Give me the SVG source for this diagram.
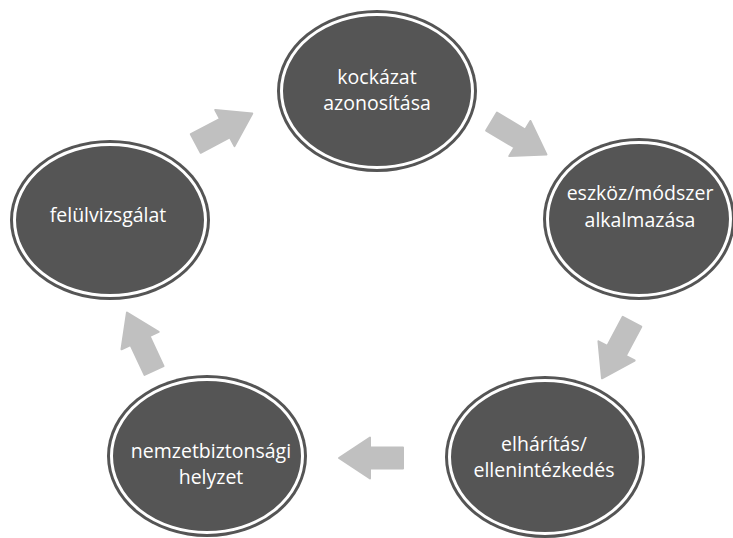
<svg xmlns="http://www.w3.org/2000/svg" width="733" height="538" viewBox="0 0 733 538">
  <defs>
    <style>
      .outer { fill: #555555; }
      .ring { fill: none; stroke: #ffffff; stroke-width: 3; }
      .label { fill: #ffffff; font-family: "Open Sans", "DejaVu Sans", sans-serif; font-size: 19.5px; text-anchor: middle; }
      .arrow { fill: #c0c0c0; stroke: #c0c0c0; stroke-width: 2; stroke-linejoin: round; }
    </style>
    <polygon id="arr" points="-32,-10.5 1,-10.5 1,-20.5 32,0 1,20.5 1,10.5 -32,10.5"/>
  </defs>
  <rect width="733" height="538" fill="#ffffff"/>

  <g id="connectors">
    <use href="#arr" class="arrow" transform="translate(224,128.5) rotate(-28)"/>
    <use href="#arr" class="arrow" transform="translate(519,138) rotate(31)"/>
    <use href="#arr" class="arrow" transform="translate(617,350) rotate(118)"/>
    <use href="#arr" class="arrow" transform="translate(371,458) rotate(180)"/>
    <use href="#arr" class="arrow" transform="translate(140.5,341.5) rotate(-115)"/>
  </g>

  <g id="node-kockazat">
    <ellipse class="outer" cx="377" cy="91" rx="100" ry="81"/>
    <ellipse class="ring" cx="377" cy="91" rx="95.5" ry="76.5"/>
    <text class="label" x="377" y="84">kockázat</text>
    <text class="label" x="377" y="110">azonosítása</text>
  </g>

  <g id="node-eszkoz">
    <ellipse class="outer" cx="639" cy="219" rx="96" ry="81"/>
    <ellipse class="ring" cx="639" cy="219" rx="91.5" ry="76.5"/>
    <text class="label" x="640" y="200">eszköz/módszer</text>
    <text class="label" x="640" y="227">alkalmazása</text>
  </g>

  <g id="node-elharitas">
    <ellipse class="outer" cx="545" cy="457" rx="100" ry="81"/>
    <ellipse class="ring" cx="545" cy="457" rx="95.5" ry="76.5"/>
    <text class="label" x="544" y="451">elhárítás/</text>
    <text class="label" x="544" y="477">ellenintézkedés</text>
  </g>

  <g id="node-nemzetbiztonsagi">
    <ellipse class="outer" cx="207" cy="456" rx="100" ry="81"/>
    <ellipse class="ring" cx="207" cy="456" rx="95.5" ry="76.5"/>
    <text class="label" x="211" y="458">nemzetbiztonsági</text>
    <text class="label" x="211" y="484">helyzet</text>
  </g>

  <g id="node-felulvizsgalat">
    <ellipse class="outer" cx="110" cy="220" rx="100" ry="80"/>
    <ellipse class="ring" cx="110" cy="220" rx="95.5" ry="75.5"/>
    <text class="label" x="108" y="222">felülvizsgálat</text>
  </g>
</svg>
